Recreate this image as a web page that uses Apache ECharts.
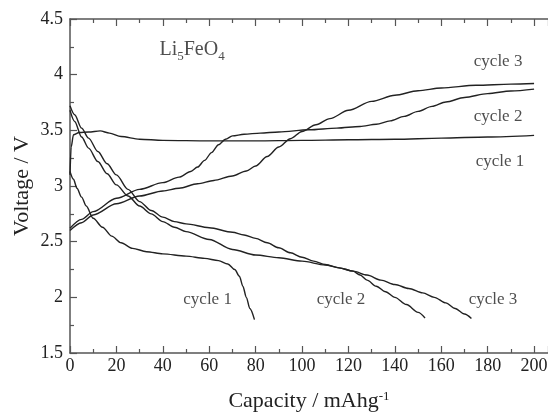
<!DOCTYPE html>
<html>
<head>
<meta charset="utf-8">
<script src="https://cdn.jsdelivr.net/npm/echarts@6/dist/echarts.min.js"></script>
<style>
  html, body { margin: 0; padding: 0; background: #fff; }
  #chart { width: 548px; height: 416px; }
</style>
</head>
<body>
<div id="chart"></div>
<script>
// capacity (mAh/g), voltage (V)
const cycle1Charge = [[0, 3.10], [0.5, 3.35], [1.5, 3.46], [4, 3.48], [8, 3.485], [13, 3.495], [17, 3.475],
  [22, 3.445], [30, 3.42], [40, 3.41], [60, 3.405], [80, 3.405], [100, 3.41], [120, 3.415], [140, 3.42],
  [160, 3.43], [180, 3.44], [200, 3.455]];
const cycle1Discharge = [[0, 3.13], [1.5, 3.06], [3, 2.98], [5, 2.90], [7, 2.82], [10, 2.71], [14, 2.63],
  [18, 2.55], [22, 2.49], [27, 2.44], [33, 2.41], [40, 2.39], [50, 2.37], [58, 2.35], [64, 2.33], [68, 2.30],
  [71, 2.25], [73, 2.19], [74.5, 2.10], [76, 2.00], [77.5, 1.90], [79.5, 1.80]];
const cycle2Charge = [[0, 2.62], [5, 2.70], [10, 2.77], [20, 2.89], [30, 2.97], [40, 3.03], [47, 3.08],
  [52, 3.13], [55, 3.17], [58, 3.23], [61, 3.30], [64, 3.37], [67, 3.42], [70, 3.45], [75, 3.465],
  [82, 3.475], [90, 3.485], [103, 3.505], [115, 3.52], [125, 3.535], [132, 3.555], [138, 3.585],
  [144, 3.625], [150, 3.67], [156, 3.715], [162, 3.755], [170, 3.795], [180, 3.83], [190, 3.853], [200, 3.87]];
const cycle3Charge = [[0, 2.60], [5, 2.67], [10, 2.74], [20, 2.84], [30, 2.91], [40, 2.955], [47, 2.98],
  [55, 3.02], [62, 3.05], [70, 3.09], [76, 3.135], [80, 3.18], [85, 3.265], [90, 3.35], [95, 3.425],
  [100, 3.49], [106, 3.55], [112, 3.605], [120, 3.68], [130, 3.76], [140, 3.815], [150, 3.855],
  [160, 3.88], [175, 3.905], [190, 3.915], [200, 3.92]];
const cycle2Discharge = [[0, 3.72], [2, 3.64], [5, 3.52], [8, 3.43], [12, 3.31], [16, 3.20], [20, 3.10],
  [25, 2.97], [30, 2.86], [35, 2.78], [40, 2.72], [45, 2.68], [50, 2.66], [60, 2.625], [70, 2.585],
  [75, 2.56], [80, 2.53], [85, 2.49], [90, 2.445], [95, 2.40], [100, 2.36], [105, 2.325], [110, 2.295],
  [116, 2.265], [122, 2.235], [125, 2.20], [128, 2.155], [132, 2.10], [136, 2.05], [140, 2.00],
  [145, 1.935], [150, 1.865], [153, 1.815]];
const cycle3Discharge = [[0, 3.68], [2, 3.58], [5, 3.44], [8, 3.34], [12, 3.22], [16, 3.11], [20, 3.01],
  [25, 2.91], [30, 2.82], [35, 2.75], [40, 2.68], [45, 2.63], [50, 2.59], [60, 2.52], [70, 2.43],
  [80, 2.38], [90, 2.355], [100, 2.325], [110, 2.29], [116, 2.265], [122, 2.235], [128, 2.20],
  [134, 2.155], [140, 2.115], [146, 2.08], [152, 2.04], [157, 2.00], [162, 1.95], [166, 1.90],
  [170, 1.85], [173, 1.81]];

// text notes placed in data coordinates
const noteX = [52.6, 184.5, 184.5, 185.3, 59.3, 116.8, 182.3];
const noteY = [4.21, 4.12, 3.62, 3.22, 1.98, 1.98, 1.98];
const noteText = ['{n|Li}{s|5}{n|FeO}{s|4}', 'cycle 3', 'cycle 2', 'cycle 1', 'cycle 1', 'cycle 2', 'cycle 3'];

const FONT = '"Liberation Serif", "DejaVu Serif", serif';
const INK = '#222';
const AXIS = '#555';

const chart = echarts.init(document.getElementById('chart'));

const xAxisBase = {
  type: 'value',
  min: 0,
  max: 206,
  interval: 20,
  splitLine: { show: false },
  axisLine: { lineStyle: { color: AXIS, width: 1.5 } },
  axisTick: { inside: true, length: 7, lineStyle: { color: AXIS, width: 1.2 } },
  minorTick: { show: true, splitNumber: 2, length: 4, lineStyle: { color: AXIS, width: 1.2 } }
};

const lineSeries = (data) => ({
  type: 'line',
  data: data,
  showSymbol: false,
  smooth: 0.3,
  smoothMonotone: 'x',
  silent: true,
  lineStyle: { color: INK, width: 1.4 }
});

chart.setOption({
  animation: false,
  backgroundColor: '#fff',
  grid: { left: 70, right: 0, top: 19, bottom: 63, containLabel: false, outerBoundsMode: 'none' },
  xAxis: [
    Object.assign({}, xAxisBase, {
      position: 'bottom',
      name: 'Capacity / mAhg{sup|-1}',
      nameLocation: 'middle',
      nameGap: 37,
      nameMoveOverlap: false,
      nameTextStyle: {
        fontFamily: FONT, fontSize: 22, color: INK,
        rich: { sup: { fontFamily: FONT, fontSize: 13, color: INK, verticalAlign: 'top' } }
      },
      axisLabel: {
        margin: 4,
        fontFamily: FONT, fontSize: 18, color: INK,
        formatter: v => (v % 20 === 0 ? String(v) : '')
      }
    }),
    Object.assign({}, xAxisBase, {
      position: 'top',
      axisLabel: { show: false }
    })
  ],
  yAxis: {
    type: 'value',
    min: 1.5,
    max: 4.5,
    interval: 0.5,
    name: 'Voltage / V',
    nameLocation: 'middle',
    nameGap: 37,
    nameMoveOverlap: false,
    nameTextStyle: { fontFamily: FONT, fontSize: 22, color: INK },
    splitLine: { show: false },
    axisLine: { show: true, lineStyle: { color: AXIS, width: 1.5 } },
    axisTick: { show: true, inside: true, length: 7, lineStyle: { color: AXIS, width: 1.2 } },
    minorTick: { show: true, splitNumber: 2, length: 4, lineStyle: { color: AXIS, width: 1.2 } },
    axisLabel: { margin: 7, fontFamily: FONT, fontSize: 18, color: INK }
  },
  series: [
    lineSeries(cycle1Charge),
    lineSeries(cycle1Discharge),
    lineSeries(cycle2Charge),
    lineSeries(cycle2Discharge),
    lineSeries(cycle3Charge),
    lineSeries(cycle3Discharge),
    {
      type: 'scatter',
      silent: true,
      symbolSize: 0,
      data: noteX.map((x, i) => [x, noteY[i]]),
      label: {
        show: true,
        position: 'inside',
        fontFamily: FONT,
        fontSize: 17,
        color: INK,
        formatter: p => noteText[p.dataIndex],
        rich: {
          n: { fontFamily: FONT, fontSize: 20, color: INK, padding: [0, 0, 3, 0] },
          s: { fontFamily: FONT, fontSize: 13, color: INK, verticalAlign: 'bottom' }
        }
      }
    }
  ]
});
</script>
</body>
</html>
